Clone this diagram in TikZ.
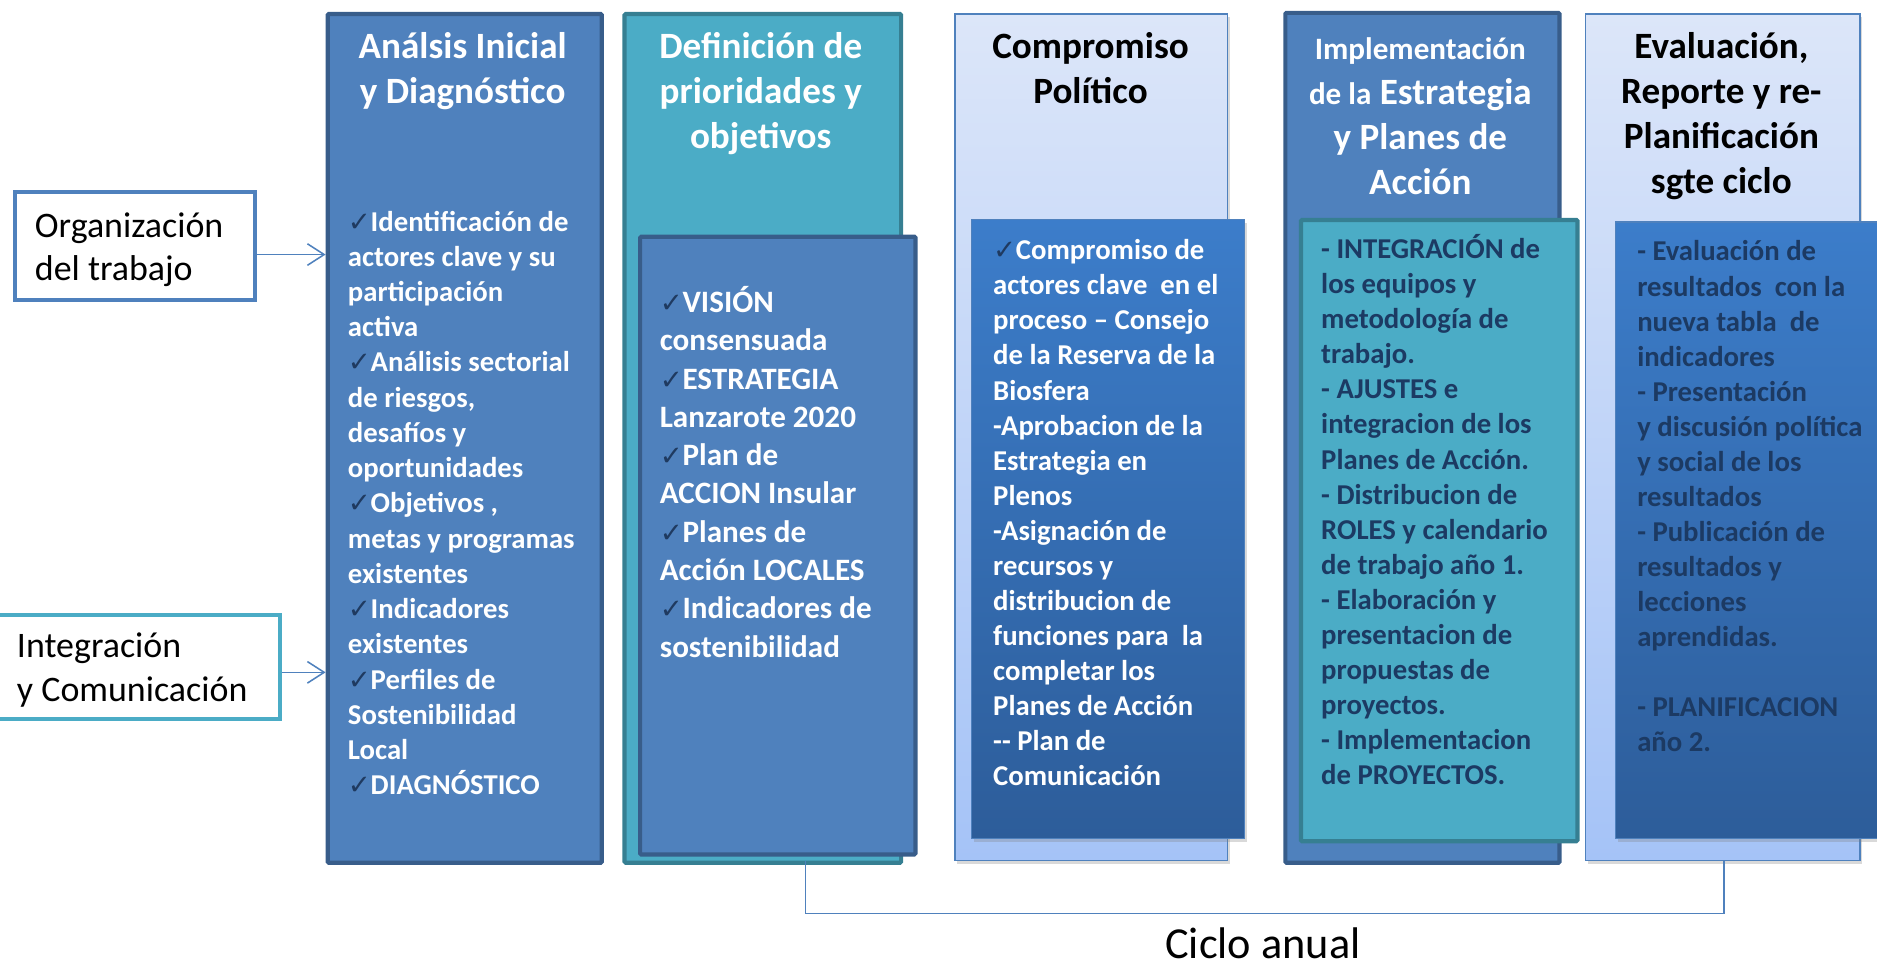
\documentclass[tikz,border=0pt]{standalone}
\usepackage{fontspec}
\setmainfont{Carlito}
\newfontfamily\symfont{DejaVu Sans}
\usetikzlibrary{arrows.meta,shadows,positioning}

\definecolor{blueA}{HTML}{4F81BD}
\definecolor{blueD}{HTML}{385D8A}
\definecolor{tealA}{HTML}{4BACC6}
\definecolor{tealD}{HTML}{367F92}
\definecolor{paleT}{HTML}{DCE6F9}
\definecolor{paleB}{HTML}{A5C3F7}
\definecolor{deepT}{HTML}{3C7DCA}
\definecolor{deepB}{HTML}{2D5D9A}
\definecolor{navy}{HTML}{1C3A63}
\definecolor{chkcol}{HTML}{1F3A60}

\newcommand{\chk}{\makebox[19pt][l]{\symfont\fontsize{23}{23}\selectfont\textcolor{chkcol}{✓}}}
\newcommand{\boxlines}[1]{\begin{tabular}[t]{@{}l@{}}#1\end{tabular}}
\newcommand{\titlelines}[1]{\begin{tabular}[t]{@{}c@{}}#1\end{tabular}}

\tikzset{
  phase/.style={draw, line width=3.5pt, rounded corners=1pt, anchor=north west, inner sep=0pt},
  pale/.style={draw=blueA, line width=1.2pt, top color=paleT, bottom color=paleB,
    anchor=north west, inner sep=0pt, drop shadow={shadow xshift=2pt,shadow yshift=-3pt,opacity=0.3}},
  deep/.style={draw=blueA, line width=1pt, top color=deepT, bottom color=deepB,
    anchor=north west, inner sep=0pt, drop shadow={shadow xshift=2pt,shadow yshift=-3pt,opacity=0.3}},
  side/.style={draw, line width=3.3pt, fill=white, anchor=north west, inner sep=0pt},
  head/.style={anchor=base, inner sep=0pt, font=\bfseries\fontsize{31}{37.5}\selectfont},
  body/.style={anchor=base west, inner sep=0pt, font=\bfseries\fontsize{24}{29.3}\selectfont},
  feed/.style={draw=blueA, line width=1.3pt, -{Straight Barb[length=14pt,width=18pt]}},
  cycle line/.style={draw=blueA, line width=1.3pt}
}

\begin{document}
\begin{tikzpicture}[x=1pt,y=-1pt]
  \useasboundingbox (0,0) rectangle (1568,810);

  % side boxes
  \node[side, draw=blueA, minimum width=201pt, minimum height=90pt] (org) at (10.5,159) {};
  \node[side, draw=tealA, minimum width=245pt, minimum height=87pt] (int) at (-13,512) {};
  \node[anchor=base west, inner sep=0pt, font=\fontsize{30}{36}\selectfont] (orgtxt) at (29,198) {\boxlines{Organización\\del trabajo}};
  \node[anchor=base west, inner sep=0pt, font=\fontsize{30}{37}\selectfont] (inttxt) at (14,549) {\boxlines{Integración\\y Comunicación}};

  % phases
  \node[phase, draw=blueD, fill=blueA, minimum width=229pt, minimum height=709pt] (ana) at (272,10) {};
  \node[phase, draw=tealD, fill=tealA, minimum width=231pt, minimum height=709pt] (def) at (520,10) {};
  \node[phase, draw=blueD, fill=blueA, minimum width=230pt, minimum height=516pt] (defin) at (533,196) {};
  \node[pale, minimum width=228pt, minimum height=707pt] (com) at (797,11) {};
  \node[deep, minimum width=228pt, minimum height=517pt] (comin) at (811,183) {};
  \node[phase, draw=blueD, fill=blueA, minimum width=229pt, minimum height=710pt] (imp) at (1072,9) {};
  \node[phase, draw=tealD, fill=tealA, minimum width=231pt, minimum height=519pt] (impin) at (1085,182) {};
  \node[pale, minimum width=229pt, minimum height=707pt] (eva) at (1324,11) {};
  \node[deep, minimum width=240pt, minimum height=515pt] (evain) at (1349,185) {};

  % headings
  \node[head, text=white] (anahead) at (386.5,49) {\titlelines{Análsis Inicial\\y Diagnóstico}};
  \node[head, text=white] (defhead) at (635.5,49) {\titlelines{Definición de\\prioridades y\\objetivos}};
  \node[head, text=black] (comhead) at (911,49) {\titlelines{Compromiso\\Político}};
  \node[head, text=white] (imphead) at (1186.5,50) {\titlelines{{\fontsize{26}{30}\selectfont Implementación}\\{\fontsize{26}{30}\selectfont de la} Estrategia\\y Planes de\\Acción}};
  \node[head, text=black] (evahead) at (1438,49) {\titlelines{Evaluación,\\Reporte y re-\\Planificación\\sgte ciclo}};

  % contents
  \node[body, text=white, font=\bfseries\fontsize{24}{29.44}\selectfont] (anatxt) at (290.5,193) {\boxlines{%
    \chk Identificación de\\actores clave y su\\participación\\activa\\
    \chk Análisis sectorial\\de riesgos,\\desafíos y\\oportunidades\\
    \chk Objetivos ,\\metas y programas\\existentes\\
    \chk Indicadores\\existentes\\
    \chk Perfiles de\\Sostenibilidad\\Local\\
    \chk DIAGNÓSTICO}};
  \node[body, text=white, font=\bfseries\fontsize{26}{32}\selectfont] (deftxt) at (551,261) {\boxlines{%
    \chk VISIÓN\\consensuada\\
    \chk ESTRATEGIA\\Lanzarote 2020\\
    \chk Plan de\\ACCION Insular\\
    \chk Planes de\\Acción LOCALES\\
    \chk Indicadores de\\sostenibilidad}};
  \node[body, text=white] (comtxt) at (829.5,217) {\boxlines{%
    \chk Compromiso de\\actores clave\ \ en el\\proceso – Consejo\\de la Reserva de la\\Biosfera\\
    -Aprobacion de la\\Estrategia en\\Plenos\\
    -Asignación de\\recursos y\\distribucion de\\funciones para\ \ la\\completar los\\Planes de Acción\\
    -{}- Plan de\\Comunicación}};
  \node[body, text=navy] (imptxt) at (1103.5,216) {\boxlines{%
    - INTEGRACIÓN de\\los equipos y\\metodología de\\trabajo.\\
    - AJUSTES e\\integracion de los\\Planes de Acción.\\
    - Distribucion de\\ROLES y calendario\\de trabajo año 1.\\
    - Elaboración y\\presentacion de\\propuestas de\\proyectos.\\
    - Implementacion\\de PROYECTOS.}};
  \node[body, text=navy] (evatxt) at (1367.5,218) {\boxlines{%
    - Evaluación de\\resultados\ \ con la\\nueva tabla\ \ de\\indicadores\\
    - Presentación\\y discusión política\\y social de los\\resultados\\
    - Publicación de\\resultados y\\lecciones\\aprendidas.\\ \\
    - PLANIFICACION\\año 2.}};

  % arrows
  \coordinate (orgout) at ([yshift=-7pt]org.east);
  \coordinate (intout) at ([yshift=-4.5pt]int.east);
  \draw[feed] (orgout) -- (orgout -| ana.west);
  \draw[feed] (intout) -- (intout -| ana.west);

  % annual cycle
  \coordinate (cycL) at (673,719);
  \coordinate (cycR) at (1440,719);
  \draw[cycle line] (cycL) -- ++(0,44) -| (cycR);
  \node[anchor=base, inner sep=0pt, font=\fontsize{37}{40}\selectfont] (ciclo) at (1055,801) {Ciclo anual};
\end{tikzpicture}
\end{document}
